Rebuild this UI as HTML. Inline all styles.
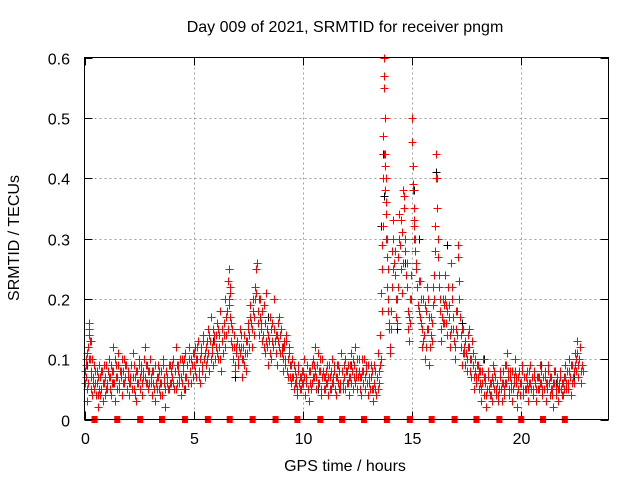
<!DOCTYPE html>
<html><head><meta charset="utf-8"><style>
body{margin:0;background:#fff;width:640px;height:480px;overflow:hidden}
svg{font-family:"Liberation Sans",sans-serif;font-size:16px}
</style></head><body>
<svg id="chart" width="640" height="480" xmlns="http://www.w3.org/2000/svg">
<rect width="640" height="480" fill="#fff"/>
<text x="345" y="32" text-anchor="middle">Day 009 of 2021, SRMTID for receiver pngm</text>
<text x="345" y="471" text-anchor="middle">GPS time / hours</text>
<text transform="translate(19,238) rotate(-90)" text-anchor="middle">SRMTID / TECUs</text>
<g id="grid"></g>
<g id="axes"></g>
<g id="black"></g>
<g id="red"></g>
<g id="sq"></g>
<rect x="84.5" y="57.5" width="524" height="362" fill="none" stroke="#000"/>
</svg>
<script>
const xTicks=[0,5,10,15,20];
const yTicks=[0,0.1,0.2,0.3,0.4,0.5,0.6];
const yTickLabels=["0","0.1","0.2","0.3","0.4","0.5","0.6"];
const sqT=[0.46,1.5,2.55,3.55,4.6,5.65,6.65,7.7,8.75,9.75,10.8,11.8,12.8,13.85,14.9,15.9,16.95,17.95,19.0,20.0,21.0,22.0];
const redT=[0,.03,.05,.1,.12,.18,.2,.22,.25,.28,.3,.35,.4,.42,.45,.5,.55,.6,.62,.65,.7,.75,.8,.85,.9,.95,
1,1.05,1.1,1.15,1.2,1.25,1.3,1.35,1.4,1.45,1.5,1.55,1.6,1.65,1.7,1.75,1.8,1.85,1.9,1.95,
2,2.05,2.1,2.15,2.2,2.25,2.3,2.35,2.4,2.45,2.5,2.55,2.6,2.65,2.7,2.75,2.8,2.85,2.9,2.95,
3,3.05,3.1,3.15,3.2,3.25,3.3,3.35,3.4,3.45,3.5,3.55,3.6,3.65,3.7,3.75,3.8,3.85,3.9,3.95,
4,4.05,4.1,4.15,4.2,4.25,4.3,4.35,4.4,4.45,4.5,4.55,4.6,4.65,4.7,4.75,4.8,4.85,4.9,4.95,
5,5.05,5.1,5.15,5.2,5.25,5.3,5.35,5.4,5.45,5.5,5.55,5.6,5.65,5.7,5.75,5.8,5.85,5.9,5.95,
6,6.05,6.1,6.15,6.2,6.25,6.3,6.35,6.4,6.45,6.5,6.55,6.6,6.62,6.65,6.7,6.75,6.8,6.85,6.9,6.95,
7,7.05,7.1,7.15,7.2,7.25,7.3,7.35,7.4,7.45,7.5,7.55,7.6,7.65,7.7,7.75,7.8,7.85,7.9,7.95,
8,8.05,8.1,8.15,8.2,8.25,8.3,8.35,8.4,8.45,8.5,8.55,8.6,8.65,8.7,8.75,8.8,8.85,8.9,8.95,
9,9.05,9.1,9.15,9.2,9.25,9.3,9.35,9.4,9.45,9.5,9.55,9.6,9.65,9.7,9.75,9.8,9.85,9.9,9.95,
10,10.05,10.1,10.15,10.2,10.25,10.3,10.35,10.4,10.45,10.5,10.55,10.6,10.65,10.7,10.75,10.8,10.85,10.9,10.95,
11,11.05,11.1,11.15,11.2,11.25,11.3,11.35,11.4,11.45,11.5,11.55,11.6,11.65,11.7,11.75,11.8,11.85,11.9,11.95,
12,12.05,12.1,12.15,12.2,12.25,12.3,12.35,12.4,12.45,12.5,12.55,12.6,12.65,12.7,12.75,12.8,12.85,12.9,12.95,
13,13.05,13.1,13.15,13.2,13.25,13.3,13.35,13.4,13.45,13.5,13.55,13.6,13.62,13.65,13.68,13.7,13.72,13.74,13.76,13.78,13.8,13.82,13.85,13.88,13.9,13.95,
14,14.05,14.1,14.12,14.15,14.2,14.25,14.3,14.35,14.4,14.45,14.5,14.55,14.6,14.65,14.7,14.75,14.8,14.85,14.9,14.95,
15,15.02,15.05,15.08,15.1,15.15,15.2,15.25,15.3,15.35,15.4,15.45,15.5,15.55,15.6,15.65,15.7,15.75,15.8,15.85,15.9,15.95,
16,16.05,16.1,16.12,16.15,16.2,16.25,16.3,16.35,16.4,16.45,16.5,16.55,16.6,16.65,16.7,16.75,16.8,16.85,16.9,16.95,
17,17.05,17.1,17.15,17.2,17.25,17.3,17.35,17.4,17.45,17.5,17.55,17.6,17.65,17.7,17.75,17.8,17.85,17.9,17.95,
18,18.05,18.1,18.15,18.2,18.25,18.3,18.35,18.4,18.45,18.5,18.55,18.6,18.65,18.7,18.75,18.8,18.85,18.9,18.95,
19,19.05,19.1,19.15,19.2,19.25,19.3,19.35,19.4,19.45,19.5,19.55,19.6,19.65,19.7,19.75,19.8,19.85,19.9,19.95,
20,20.05,20.1,20.15,20.2,20.25,20.3,20.35,20.4,20.45,20.5,20.55,20.6,20.65,20.7,20.75,20.8,20.85,20.9,20.95,
21,21.05,21.1,21.15,21.2,21.25,21.3,21.35,21.4,21.45,21.5,21.55,21.6,21.65,21.7,21.75,21.8,21.85,21.9,21.95,
22,22.05,22.1,22.15,22.2,22.25,22.3,22.35,22.4,22.45,22.5,22.55,22.6,22.65,22.7,22.75,22.8];
const redV=[.08,.06,.10,.05,.03,.12,.15,.16,.10,.13,.08,.04,.07,.09,.05,.06,.08,.04,.02,.09,.07,.05,.08,.03,.06,.07,
.09,.05,.10,.07,.04,.08,.12,.06,.03,.09,.07,.11,.05,.08,.04,.06,.10,.07,.09,.05,
.08,.04,.06,.09,.11,.05,.07,.03,.08,.06,.10,.05,.09,.04,.07,.12,.06,.09,.05,.08,
.10,.06,.04,.08,.05,.03,.07,.09,.05,.06,.08,.04,.10,.06,.02,.08,.07,.05,.09,.06,
.07,.10,.05,.08,.12,.06,.09,.07,.04,.10,.08,.05,.11,.07,.09,.06,.12,.08,.10,.07,
.09,.12,.07,.10,.13,.08,.06,.11,.09,.14,.07,.12,.10,.15,.08,.13,.17,.11,.09,.14,
.12,.16,.10,.14,.18,.08,.13,.11,.16,.20,.14,.23,.25,.19,.21,.16,.12,.10,.14,.08,.11,
.13,.09,.15,.12,.07,.10,.14,.11,.08,.13,.16,.12,.19,.15,.20,.17,.22,.25,.26,.18,
.14,.20,.16,.13,.19,.11,.21,.15,.09,.13,.17,.10,.16,.12,.20,.14,.09,.13,.17,.11,
.15,.12,.08,.13,.10,.14,.07,.11,.09,.06,.10,.07,.05,.08,.06,.04,.09,.07,.05,.08,
.06,.10,.04,.07,.09,.05,.03,.08,.06,.10,.07,.12,.05,.09,.11,.06,.08,.04,.10,.07,
.05,.08,.06,.04,.09,.07,.05,.10,.06,.08,.04,.07,.09,.05,.06,.11,.08,.05,.07,.10,
.06,.09,.04,.07,.11,.08,.05,.09,.12,.07,.05,.10,.07,.04,.08,.06,.10,.05,.08,.06,
.04,.07,.09,.05,.03,.06,.08,.04,.07,.11,.06,.14,.21,.29,.32,.47,.60,.57,.55,.50,.44,.40,.36,.30,.25,.20,.15,
.12,.18,.28,.33,.30,.24,.20,.16,.22,.34,.29,.25,.31,.38,.37,.28,.22,.18,.13,.20,.24,
.50,.46,.39,.35,.32,.30,.26,.22,.18,.23,.16,.12,.20,.14,.10,.18,.22,.15,.09,.17,.13,.19,
.24,.32,.44,.40,.35,.27,.22,.18,.13,.20,.16,.24,.19,.14,.22,.17,.12,.26,.20,.15,.10,
.18,.14,.29,.23,.17,.12,.09,.15,.11,.13,.08,.12,.15,.10,.07,.13,.09,.05,.10,.07,
.09,.05,.08,.03,.06,.10,.04,.07,.02,.05,.08,.04,.06,.03,.09,.05,.07,.04,.06,.03,
.05,.08,.03,.06,.04,.09,.06,.11,.07,.04,.08,.05,.03,.07,.10,.06,.02,.05,.08,.04,
.06,.09,.04,.07,.05,.08,.03,.06,.09,.05,.07,.04,.08,.06,.03,.07,.05,.09,.06,.04,
.07,.05,.08,.03,.06,.09,.04,.07,.05,.02,.06,.08,.04,.07,.03,.05,.08,.06,.04,.07,
.09,.05,.08,.06,.10,.07,.04,.09,.06,.11,.08,.13,.07,.10,.12,.06,.09];
const redV2=[.06,.09,.07,.11,.06,.14,.10,.13,.07,.05,.10,.06,.09,.05,.08,.04,.06,.07,.09,.05,.04,.08,.06,.09,.04,.05,
.06,.08,.07,.05,.09,.06,.08,.10,.07,.05,.09,.06,.08,.07,.10,.08,.06,.09,.05,.07,
.06,.07,.09,.05,.07,.09,.04,.08,.06,.09,.07,.08,.06,.08,.10,.07,.09,.06,.08,.06,
.07,.08,.06,.05,.09,.06,.05,.07,.08,.04,.06,.09,.07,.05,.08,.06,.05,.09,.06,.08,
.09,.06,.08,.05,.09,.08,.06,.10,.07,.06,.09,.10,.07,.09,.06,.10,.08,.06,.09,.11,
.11,.08,.10,.12,.07,.10,.12,.08,.13,.10,.11,.09,.13,.11,.14,.10,.12,.15,.13,.10,
.14,.11,.15,.12,.10,.15,.11,.14,.12,.17,.18,.15,.20,.22,.17,.13,.15,.12,.09,.12,.13,
.10,.12,.11,.14,.10,.12,.09,.13,.11,.15,.14,.17,.16,.12,.18,.14,.20,.21,.16,.20,
.17,.15,.18,.14,.12,.16,.13,.12,.14,.11,.15,.13,.12,.15,.13,.11,.14,.16,.12,.14,
.11,.10,.12,.09,.13,.08,.10,.12,.07,.09,.07,.09,.06,.07,.05,.08,.06,.05,.07,.06,
.08,.07,.06,.09,.05,.08,.06,.05,.09,.07,.09,.08,.07,.06,.08,.10,.05,.07,.08,.05,
.07,.06,.09,.07,.05,.08,.06,.07,.09,.05,.07,.09,.06,.08,.05,.08,.06,.09,.05,.08,
.08,.06,.07,.09,.06,.10,.07,.06,.08,.10,.07,.08,.05,.07,.10,.08,.07,.09,.06,.09,
.06,.05,.07,.08,.05,.09,.05,.07,.05,.08,.09,.10,.18,.25,.40,.44,.55,.50,.42,.38,.34,.30,.27,.22,.18,.16,.11,
.15,.22,.25,.30,.26,.28,.17,.20,.27,.30,.33,.21,.26,.35,.30,.24,.26,.15,.17,.16,.20,
.42,.38,.33,.30,.28,.25,.22,.19,.23,.17,.20,.15,.13,.19,.12,.15,.20,.17,.12,.14,.16,.22,
.20,.28,.40,.35,.30,.24,.20,.15,.17,.16,.19,.20,.16,.18,.19,.14,.15,.22,.17,.13,.12,
.15,.18,.27,.20,.14,.15,.11,.12,.09,.11,.10,.14,.12,.08,.10,.11,.07,.08,.06,.09,
.07,.08,.06,.05,.08,.07,.06,.04,.05,.07,.05,.06,.04,.07,.06,.08,.05,.06,.04,.05,
.07,.05,.06,.08,.05,.06,.09,.08,.05,.07,.06,.08,.05,.06,.08,.07,.04,.07,.06,.06,
.08,.05,.07,.05,.07,.06,.05,.08,.06,.07,.05,.07,.06,.05,.07,.05,.07,.06,.08,.05,
.05,.07,.06,.05,.08,.06,.07,.05,.04,.06,.08,.05,.06,.05,.06,.07,.05,.04,.06,.05,
.07,.06,.05,.08,.07,.09,.06,.07,.08,.09,.10,.11,.09,.12,.08,.09,.08];
const blackT=[0.1,1.3,3.1,4.6,5.9,6.9,8.4,9.1,10.7,12.2,13.6,13.66,13.72,14.3,14.7,15.1,15.3,16.1,16.15,16.6,17.3,18.3,19.5,20.9,21.6,22.4];
const blackV=[.09,.06,.08,.05,.13,.07,.17,.12,.05,.09,.32,.44,.37,.15,.26,.38,.3,.41,.4,.29,.16,.1,.08,.09,.06,.07];

const NS="http://www.w3.org/2000/svg";
const X0=84.5,X1=608.5,Y0=419.5,Y1=57.5;
const sx=t=>X0+(t/24)*(X1-X0);
const sy=v=>Y0-(v/0.6)*(Y0-Y1);
function mk(tag,attrs,parent){const e=document.createElementNS(NS,tag);for(const k in attrs)e.setAttribute(k,attrs[k]);parent.appendChild(e);return e;}
const grid=document.getElementById('grid'),axes=document.getElementById('axes');
yTicks.forEach((v,i)=>{
  const y=Math.round(sy(v))+0.5;
  if(v>0&&v<0.6){const g=mk('line',{x1:X0,x2:X1,y1:y,y2:y,stroke:'#a0a0a0','stroke-dasharray':'2,3'},grid);
  
  }
  const t1=mk('line',{x1:X0,x2:X0+8,y1:y,y2:y,stroke:'#000'},axes);
  
  
  const t2=mk('line',{x1:X1-8,x2:X1,y1:y,y2:y,stroke:'#000'},axes);
  
  
  const l=mk('text',{x:70,y:y+6,'text-anchor':'end'},axes);l.textContent=yTickLabels[i];
  
  
});
xTicks.forEach(t=>{
  const x=Math.round(sx(t))+0.5;
  if(t>0){const g=mk('line',{x1:x,x2:x,y1:Y0,y2:Y1,stroke:'#a0a0a0','stroke-dasharray':'2,3'},grid);
  
  }
  const t1=mk('line',{x1:x,x2:x,y1:Y0,y2:Y0-8,stroke:'#000'},axes);
  
  
  const t2=mk('line',{x1:x,x2:x,y1:Y1,y2:Y1+8,stroke:'#000'},axes);
  
  
  const l=mk('text',{x:x,y:444,'text-anchor':'middle'},axes);l.textContent=String(t);
  
  
});
function plus(x,y,c,parent){return mk('path',{d:`M${x-4},${y}H${x+4}M${x},${y-4}V${y+4}`,stroke:c,'stroke-width':1.3,fill:'none','shape-rendering':'crispEdges'},parent);}
const bg=document.getElementById('black');
blackT.forEach((t,i)=>{
  const p=plus(Math.round(sx(t))+0.5,Math.round(sy(blackV[i]))+0.5,'#000',bg);
  
  
});
const rg=document.getElementById('red');
redT.forEach((t,i)=>{
  const p=plus(Math.round(sx(t))+0.5,Math.round(sy(redV[i]))+0.5,'#f00',rg);
  
  
  const q=plus(Math.round(sx(t+0.025))+0.5,Math.round(sy(redV2[i]))+0.5,'#f00',rg);
  
  
});
const sg=document.getElementById('sq');
sqT.forEach(t=>{
  const r=mk('rect',{x:sx(t)-3,y:Y0-3.5,width:6,height:7,fill:'#f00'},sg);
  
  
});
</script>
</body></html>
